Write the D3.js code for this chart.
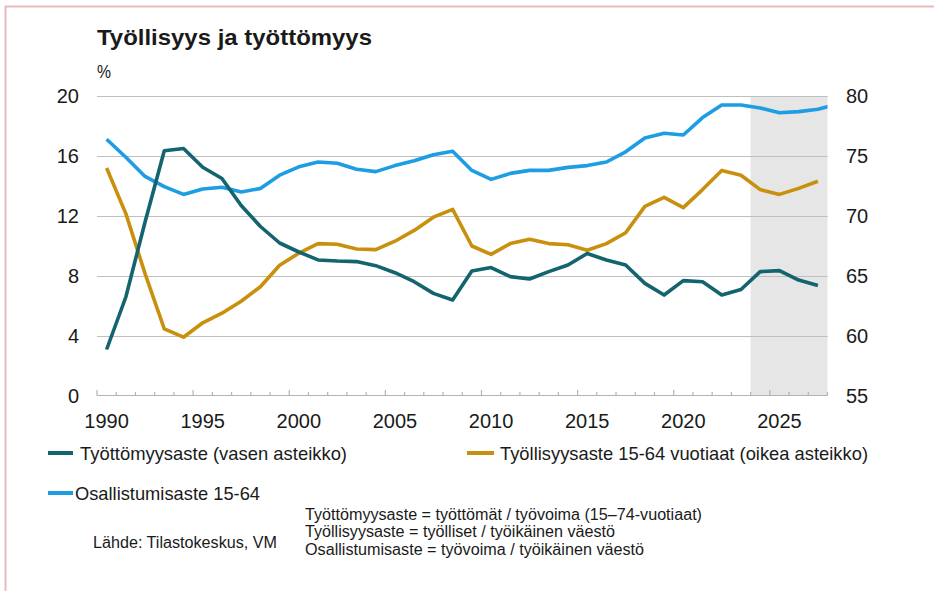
<!DOCTYPE html>
<html><head><meta charset="utf-8">
<script src="https://cdn.jsdelivr.net/npm/d3@7"></script>
<style>body{margin:0;background:#fff;}svg{display:block;font-family:"Liberation Sans",Arial,sans-serif;}</style>
</head><body>
<svg id="c" width="934" height="591"></svg>
<script>
const years = d3.range(1990, 2028);
const unemployment = [3.1,6.6,11.6,16.35,16.5,15.25,14.5,12.7,11.3,10.2,
  9.6,9.07,9.0,8.96,8.69,8.22,7.62,6.84,6.4,8.33,
  8.56,7.96,7.8,8.29,8.73,9.5,9.07,8.73,7.51,6.73,
  7.69,7.62,6.73,7.1,8.29,8.36,7.73,7.36];
const employment = [74.0,70.2,65.2,60.6,59.9,61.1,61.9,62.9,64.1,65.9,
  66.9,67.7,67.65,67.25,67.2,67.9,68.8,69.9,70.55,67.5,
  66.8,67.7,68.06,67.7,67.6,67.15,67.7,68.6,70.8,71.55,
  70.7,72.2,73.8,73.4,72.2,71.8,72.3,72.9];
const partYears = d3.range(1990, 2029);
const participation = [76.4,74.9,73.3,72.45,71.8,72.25,72.4,72.0,72.3,73.4,
  74.1,74.5,74.4,73.9,73.7,74.2,74.6,75.1,75.4,73.8,
  73.05,73.55,73.8,73.8,74.05,74.2,74.5,75.35,76.5,76.9,
  76.75,78.2,79.25,79.25,79.0,78.6,78.7,78.9,79.3];
const leftTicks = [0,4,8,12,16,20];
const rightTicks = [55,60,65,70,75,80];
const xLabels = [1990,1995,2000,2005,2010,2015,2020,2025];
const forecastStart = 2024;
const title = "Työllisyys ja työttömyys";
const unit = "%";
const seriesNames = ["Työttömyysaste (vasen asteikko)", "Työllisyysaste 15-64 vuotiaat (oikea asteikko)", "Osallistumisaste 15-64"];
const notes = ["Työttömyysaste = työttömät / työvoima (15–74-vuotiaat)", "Työllisyysaste = työlliset / työikäinen väestö", "Osallistumisaste = työvoima / työikäinen väestö"];
const source = "Lähde: Tilastokeskus, VM";

const C = {teal:"#13646f", gold:"#c8900c", blue:"#1d9de3", grid:"#bfbfbf", shade:"#e6e6e6"};
const svg = d3.select("#c");
const L = 97, R = 827.5, T = 96, B = 396;

// border
svg.append("line").attr("x1",5).attr("x2",934).attr("y1",6.5).attr("y2",6.5).attr("stroke","#ebb9b9").attr("stroke-width",2);
svg.append("line").attr("x1",5.5).attr("x2",5.5).attr("y1",6).attr("y2",591).attr("stroke","#ebb9b9").attr("stroke-width",2);

const x = d3.scaleLinear().domain([years[0]-0.5, years[years.length-1]+0.5]).range([L, R]);
const yL = d3.scaleLinear().domain([0,20]).range([B, T]);
const yR = d3.scaleLinear().domain([55,80]).range([B, T]);

svg.append("defs").append("clipPath").attr("id","pc").append("rect").attr("x",L).attr("y",0).attr("width",R-L).attr("height",B+5);

svg.append("rect").attr("x",x(forecastStart-0.5)).attr("y",T).attr("width",x(years[years.length-1]+0.5)-x(forecastStart-0.5)).attr("height",B-T).attr("fill",C.shade);

svg.selectAll(".grid").data(leftTicks.slice(1)).enter().append("line")
  .attr("x1",L).attr("x2",R).attr("y1",d=>yL(d)+0.5).attr("y2",d=>yL(d)+0.5).attr("stroke",C.grid).attr("stroke-width",1.2);
svg.append("line").attr("x1",L).attr("x2",R).attr("y1",B-0.5).attr("y2",B-0.5).attr("stroke","#b3b3b3").attr("stroke-width",1.2);

// ticks
const bounds = d3.range(years[0]-0.5, years[years.length-1]+1, 1);
svg.selectAll(".tk").data(bounds).enter().append("line")
  .attr("x1",d=>x(d)).attr("x2",d=>x(d)).attr("y1",B-0.5)
  .attr("y2",(d,i)=> i%5===0 ? B-6 : B-4).attr("stroke","#b3b3b3").attr("stroke-width",1.2);

// axis labels
svg.selectAll(".yl").data(leftTicks).enter().append("text").attr("x",79).attr("y",d=>yL(d)).attr("dy","0.36em")
  .attr("text-anchor","end").attr("font-size",20).attr("fill","#1a1a1a").text(d=>d);
svg.selectAll(".yr").data(rightTicks).enter().append("text").attr("x",846).attr("y",d=>yR(d)).attr("dy","0.36em")
  .attr("text-anchor","start").attr("font-size",20).attr("fill","#1a1a1a").text(d=>d);
svg.selectAll(".xl").data(xLabels).enter().append("text").attr("x",d=>x(d)).attr("y",428)
  .attr("text-anchor","middle").attr("font-size",20).attr("fill","#1a1a1a").text(d=>d);

// lines
const g = svg.append("g").attr("clip-path","url(#pc)");
const mk = (ys, sc) => d3.line().x((d,i)=>x(ys[i])).y(d=>sc(d));
g.append("path").datum(participation).attr("d",mk(partYears,yR)).attr("fill","none").attr("stroke",C.blue).attr("stroke-width",3.6).attr("stroke-linejoin","round");
g.append("path").datum(employment).attr("d",mk(years,yR)).attr("fill","none").attr("stroke",C.gold).attr("stroke-width",3.6).attr("stroke-linejoin","round");
g.append("path").datum(unemployment).attr("d",mk(years,yL)).attr("fill","none").attr("stroke",C.teal).attr("stroke-width",3.6).attr("stroke-linejoin","round");

function txt(s, xx, yy, size, w, weight){
  const t = svg.append("text").attr("x",xx).attr("y",yy).attr("dominant-baseline","central")
    .attr("font-size",size).attr("fill","#1a1a1a").text(s);
  if(weight) t.attr("font-weight",weight);
  if(w) t.attr("textLength",w).attr("lengthAdjust","spacingAndGlyphs");
  return t;
}
txt(title, 97, 37, 22, 275, "bold");
txt(unit, 97, 72, 18, 14);

// legend
const leg = [
  {c:C.teal, sx:48, sw:25, tx:80, y:453, w:267},
  {c:C.gold, sx:467, sw:27, tx:500, y:453, w:368},
  {c:C.blue, sx:48, sw:25, tx:75, y:493, w:185}
];
leg.forEach((d,i)=>{
  svg.append("line").attr("x1",d.sx).attr("x2",d.sx+d.sw).attr("y1",d.y).attr("y2",d.y).attr("stroke",d.c).attr("stroke-width",4);
  txt(seriesNames[i], d.tx, d.y, 19, d.w);
});
const noteW = [397, 310, 339];
notes.forEach((s,i)=> txt(s, 305, 514 + i*17.5, 16, noteW[i]));
txt(source, 93, 542, 16, 184);
</script>
</body></html>
